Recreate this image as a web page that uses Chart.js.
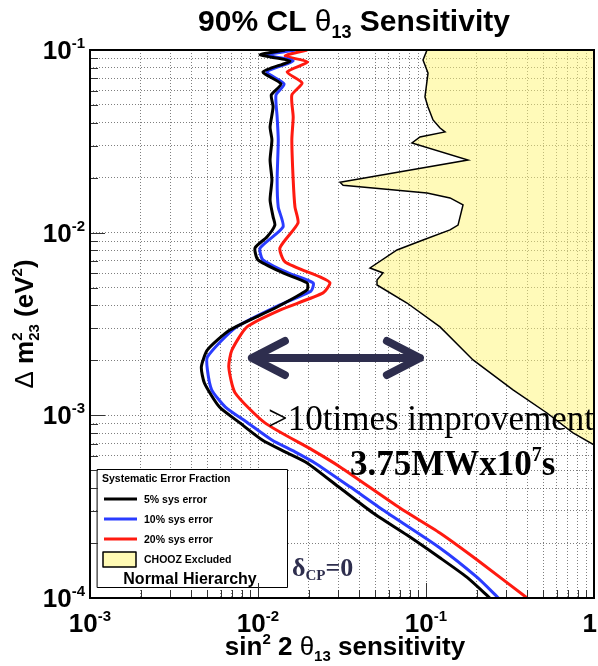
<!DOCTYPE html>
<html><head><meta charset="utf-8">
<script src="https://cdn.jsdelivr.net/npm/chart.js@4.4.0/dist/chart.umd.min.js"></script>
<style>html,body{margin:0;padding:0;background:#fff;}#wrap{width:598px;height:666px;}</style>
</head><body><div id="wrap"><canvas id="c" width="598" height="666"></canvas></div>
<script>
// ---- data ----
const sys5X = [0.0145,0.0103,0.0155,0.0107,0.0137,0.0120,0.0123,0.0118,0.0121,0.0118,0.0121,0.0118,0.0123,0.0126,0.0113,0.0096,0.0100,0.0141,0.0196,0.0196,0.0130,0.0068,0.0050,0.0046,0.0048,0.0059,0.0078,0.0106,0.0145,0.0196,0.0308,0.0484,0.0771,0.121,0.175,0.240];
const sys5Y = [0.1,0.0939,0.0871,0.0758,0.0652,0.0567,0.0488,0.0379,0.0322,0.0250,0.0194,0.0151,0.0122,0.0110,0.00947,0.00825,0.00709,0.00602,0.00531,0.00486,0.00392,0.00293,0.00228,0.00184,0.00150,0.00111,0.000909,0.000733,0.000631,0.000549,0.000400,0.000292,0.000221,0.000166,0.000130,0.0001];
const sys10X = [0.0166,0.0113,0.0162,0.0113,0.0143,0.0128,0.0130,0.0132,0.0130,0.0132,0.0141,0.0103,0.0107,0.0151,0.0213,0.0207,0.0135,0.0073,0.0050,0.0050,0.0053,0.0064,0.0087,0.0121,0.0166,0.0218,0.0353,0.0555,0.121,0.201,0.270];
const sys10Y = [0.1,0.0939,0.0871,0.0758,0.0652,0.0567,0.0430,0.0322,0.0194,0.0138,0.01075,0.00825,0.00709,0.00602,0.00531,0.00480,0.00402,0.00301,0.00209,0.00177,0.00138,0.00111,0.000909,0.000733,0.000631,0.000549,0.000406,0.000303,0.000188,0.000130,0.0001];
const sys20X = [0.0196,0.0145,0.0198,0.0149,0.0183,0.0159,0.0162,0.0159,0.0162,0.0166,0.0173,0.0135,0.0145,0.0234,0.0268,0.0244,0.0135,0.0086,0.0070,0.0067,0.0073,0.0110,0.0210,0.0308,0.0700,0.121,0.201,0.40];
const sys20Y = [0.1,0.0927,0.0860,0.0758,0.0660,0.0567,0.0430,0.0322,0.0194,0.0138,0.0113,0.00825,0.00691,0.00572,0.00531,0.00468,0.00377,0.00305,0.00228,0.00184,0.00133,0.000909,0.000647,0.000522,0.000311,0.000227,0.000162,0.0001];
const choozX = [0.1014,0.0960,0.1028,0.0986,0.1028,0.1101,0.1212,0.1298,0.0921,0.0825,0.1778,0.0308,0.0321,0.1014,0.1390,0.1661,0.1551,0.1390,0.0960,0.0672,0.0464,0.0555,0.0511,0.0511,0.0771,0.1212,0.1905,0.3296,0.5250,0.7499,1.0,1.0];
const choozY = [0.1,0.0882,0.0748,0.0553,0.0488,0.0414,0.0374,0.0356,0.0334,0.0310,0.0250,0.0189,0.0182,0.0165,0.0155,0.0142,0.0110,0.01035,0.00912,0.00804,0.00641,0.00602,0.00551,0.00517,0.00412,0.00305,0.00201,0.00138,0.00103,0.000801,0.000689,0.1];
const arrowX = [0.0092, 0.092];
const arrowY = [0.00206, 0.00206];

const xTickValues = [0.001,0.002,0.003,0.004,0.005,0.006,0.007,0.008,0.009,0.01,0.02,0.03,0.04,0.05,0.06,0.07,0.08,0.09,0.1,0.2,0.3,0.4,0.5,0.6,0.7,0.8,0.9,1];
const yTickValues = [0.0001,0.0002,0.0003,0.0004,0.0005,0.0006,0.0007,0.0008,0.0009,0.001,0.002,0.003,0.004,0.005,0.006,0.007,0.008,0.009,0.01,0.02,0.03,0.04,0.05,0.06,0.07,0.08,0.09,0.1];
const xMajorValues = [0.001,0.01,0.1,1];
const xMajorLabels = [['10','-3'],['10','-2'],['10','-1'],['1','']];
const yMajorValues = [0.0001,0.001,0.01,0.1];
const yMajorLabels = [['10','-4'],['10','-3'],['10','-2'],['10','-1']];
const legendLabels = ['5% sys error','10% sys error','20% sys error','CHOOZ Excluded'];

const SANS = '"Liberation Sans", Arial, sans-serif';
const SERIF = '"Liberation Serif", "Times New Roman", serif';
const C_BLACK = '#000000', C_BLUE = '#2a3cff', C_RED = '#ff1a10', C_NAVY = '#2e2e4e';
const C_YELLOW = 'rgba(255,245,115,0.5)', C_YELLOW_SOLID = '#fffab4';

function pts(xs, ys){ return xs.map((x,i)=>({x:x, y:ys[i]})); }

function richWidth(ctx, parts){ let w=0; for(const p of parts){ ctx.font=p.f; w+=ctx.measureText(p.t).width; } return w; }
function drawRich(ctx, parts, x, y, align){
  const w = richWidth(ctx, parts);
  let cx = align==='center' ? x-w/2 : (align==='right' ? x-w : x);
  ctx.textAlign='left'; ctx.textBaseline='alphabetic';
  for(const p of parts){ ctx.font=p.f; ctx.fillStyle=p.c||'#000'; ctx.fillText(p.t, cx, y+(p.dy||0)); cx += ctx.measureText(p.t).width; }
}

const decor = {
  id:'decor',
  afterDatasetsDraw(chart){
    const ctx = chart.ctx, xs = chart.scales.x, ys = chart.scales.y;
    ctx.save();
    // arrow
    const x1 = xs.getPixelForValue(arrowX[0]), x2 = xs.getPixelForValue(arrowX[1]);
    const y1 = ys.getPixelForValue(arrowY[0]);
    ctx.strokeStyle = C_NAVY; ctx.lineWidth = 8; ctx.lineCap='round'; ctx.lineJoin='round';
    ctx.beginPath(); ctx.moveTo(x1,y1); ctx.lineTo(x2,y1);
    ctx.moveTo(x1+33,y1-17); ctx.lineTo(x1,y1); ctx.lineTo(x1+33,y1+17);
    ctx.moveTo(x2-33,y1-17); ctx.lineTo(x2,y1); ctx.lineTo(x2-33,y1+17);
    ctx.stroke();
    // annotations
    drawRich(ctx,[{t:'>10times improvement', f:'35px '+SERIF}], 268, 430, 'left');
    drawRich(ctx,[{t:'3.75MWx10', f:'bold 35px '+SERIF},{t:'7', f:'bold 20px '+SERIF, dy:-14},{t:'s', f:'bold 35px '+SERIF}], 350, 475, 'left');
    drawRich(ctx,[{t:'\u03b4', f:'bold 26px '+SERIF, c:C_NAVY},{t:'CP', f:'bold 15px '+SERIF, c:C_NAVY, dy:4},{t:'=0', f:'bold 26px '+SERIF, c:C_NAVY}], 292, 576, 'left');
    // legend
    ctx.fillStyle='#fff'; ctx.fillRect(97,469,191,119);
    ctx.strokeStyle='#000'; ctx.lineWidth=1; ctx.strokeRect(97.5,469.5,190,118);
    drawRich(ctx,[{t:'Systematic Error Fraction', f:'bold 10.5px '+SANS}], 102, 482, 'left');
    const lc=[C_BLACK,C_BLUE,C_RED], ly=[499,519,539];
    for(let i=0;i<3;i++){
      ctx.strokeStyle=lc[i]; ctx.lineWidth=3; ctx.lineCap='butt';
      ctx.beginPath(); ctx.moveTo(104,ly[i]); ctx.lineTo(137,ly[i]); ctx.stroke();
      drawRich(ctx,[{t:legendLabels[i], f:'bold 10.5px '+SANS}], 144, ly[i]+4, 'left');
    }
    ctx.fillStyle=C_YELLOW_SOLID; ctx.fillRect(103,552,33,15);
    ctx.strokeStyle='#000'; ctx.lineWidth=1.5; ctx.strokeRect(103,552,33,15);
    drawRich(ctx,[{t:legendLabels[3], f:'bold 10.5px '+SANS}], 144, 563, 'left');
    drawRich(ctx,[{t:'Normal Hierarchy', f:'bold 16px '+SANS}], 190, 584, 'center');
    ctx.restore();
  },
  afterDraw(chart){
    const ctx = chart.ctx, xs = chart.scales.x, ys = chart.scales.y, a = chart.chartArea;
    ctx.save();
    // inner tick marks
    ctx.strokeStyle='#333'; ctx.lineWidth=1;
    ctx.beginPath();
    for(const v of xTickValues){
      const px = Math.round(xs.getPixelForValue(v))+0.5, len = xMajorValues.includes(v)?15:8;
      ctx.moveTo(px,a.bottom); ctx.lineTo(px,a.bottom-len);
    }
    for(const v of yTickValues){
      const py = Math.round(ys.getPixelForValue(v))+0.5, len = yMajorValues.includes(v)?15:8;
      ctx.moveTo(a.left,py); ctx.lineTo(a.left+len,py);
    }
    ctx.stroke();
    // frame
    ctx.strokeStyle='#000'; ctx.lineWidth=2;
    ctx.strokeRect(a.left,a.top,a.right-a.left,a.bottom-a.top);
    // tick labels
    for(let i=0;i<xMajorValues.length;i++){
      const px = xs.getPixelForValue(xMajorValues[i]);
      const lab = xMajorLabels[i];
      const parts=[{t:lab[0], f:'bold 26px '+SANS}];
      if(lab[1]) parts.push({t:lab[1], f:'bold 15px '+SANS, dy:-11});
      if(i===xMajorValues.length-1) drawRich(ctx,parts,597,632,'right');
      else drawRich(ctx,parts,px,632,'center');
    }
    for(let i=0;i<yMajorValues.length;i++){
      const py = ys.getPixelForValue(yMajorValues[i]);
      const lab = yMajorLabels[i];
      drawRich(ctx,[{t:lab[0], f:'bold 26px '+SANS},{t:lab[1], f:'bold 15px '+SANS, dy:-11}],85,py+9,'right');
    }
    // title
    drawRich(ctx,[{t:'90% CL ', f:'bold 30px '+SANS},{t:'\u03b8', f:'30px '+SANS},{t:'13', f:'bold 18px '+SANS, dy:7},{t:' Sensitivity', f:'bold 30px '+SANS}],354,31,'center');
    // x title
    drawRich(ctx,[{t:'sin', f:'bold 26px '+SANS},{t:'2', f:'bold 15px '+SANS, dy:-11},{t:' 2 ', f:'bold 26px '+SANS},{t:'\u03b8', f:'26px '+SANS},{t:'13', f:'bold 15px '+SANS, dy:6},{t:' sensitivity', f:'bold 26px '+SANS}],345,655,'center');
    // y title (rotated)
    ctx.translate(33,(a.top+a.bottom)/2); ctx.rotate(-Math.PI/2);
    const f1='26px '+SANS, fb='bold 26px '+SANS, fs='bold 15px '+SANS;
    ctx.font=f1; const wD=ctx.measureText('\u0394 ').width;
    ctx.font=fb; const wm=ctx.measureText('m').width;
    ctx.font=fs; const wst=Math.max(ctx.measureText('2').width, ctx.measureText('23').width);
    ctx.font=fb; const wr=ctx.measureText(' (eV').width;
    ctx.font=fs; const w2=ctx.measureText('2').width;
    ctx.font=fb; const wp=ctx.measureText(')').width;
    const tot=wD+wm+wst+wr+w2+wp;
    let cx=-tot/2;
    ctx.fillStyle='#000'; ctx.textAlign='left'; ctx.textBaseline='alphabetic';
    ctx.font=f1; ctx.fillText('\u0394 ',cx,0); cx+=wD;
    ctx.font=fb; ctx.fillText('m',cx,0); cx+=wm;
    ctx.font=fs; ctx.fillText('2',cx,-11); ctx.fillText('23',cx,6); cx+=wst;
    ctx.font=fb; ctx.fillText(' (eV',cx,0); cx+=wr;
    ctx.font=fs; ctx.fillText('2',cx,-11); cx+=w2;
    ctx.font=fb; ctx.fillText(')',cx,0);
    ctx.restore();
  }
};

new Chart(document.getElementById('c').getContext('2d'), {
  type:'scatter',
  data:{ datasets:[
    {label:'5% sys error', data:pts(sys5X,sys5Y), showLine:true, borderColor:C_BLACK, borderWidth:3, pointRadius:0, tension:0.2, fill:false},
    {label:'10% sys error', data:pts(sys10X,sys10Y), showLine:true, borderColor:C_BLUE, borderWidth:3, pointRadius:0, tension:0.2, fill:false},
    {label:'20% sys error', data:pts(sys20X,sys20Y), showLine:true, borderColor:C_RED, borderWidth:3, pointRadius:0, tension:0.2, fill:false},
    {label:'CHOOZ Excluded', data:pts(choozX,choozY), showLine:true, borderColor:'#000', borderWidth:1.5, pointRadius:0, tension:0, fill:'shape', backgroundColor:C_YELLOW}
  ]},
  options:{
    responsive:false, animation:false, events:[],
    layout:{padding:{left:90,right:4,top:50,bottom:68}},
    plugins:{legend:{display:false}, tooltip:{enabled:false}, title:{display:false}},
    scales:{
      x:{type:'logarithmic', min:0.001, max:1,
         afterBuildTicks:(s)=>{ s.ticks = xTickValues.map(v=>({value:v})); },
         ticks:{display:false, autoSkip:false},
         grid:{color:'rgba(0,0,0,0.5)', lineWidth:1, drawTicks:false},
         border:{display:false, dash:[1,2]}},
      y:{type:'logarithmic', min:0.0001, max:0.1,
         afterBuildTicks:(s)=>{ s.ticks = yTickValues.map(v=>({value:v})); },
         ticks:{display:false, autoSkip:false},
         grid:{color:'rgba(0,0,0,0.5)', lineWidth:1, drawTicks:false},
         border:{display:false, dash:[1,2]}}
    }
  },
  plugins:[decor]
});
</script>
</body></html>
